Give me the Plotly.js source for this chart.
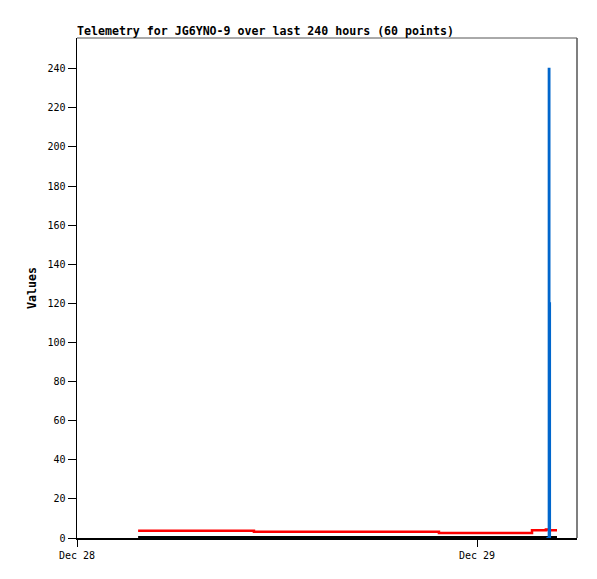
<!DOCTYPE html>
<html>
<head>
<meta charset="utf-8">
<script src="https://cdn.plot.ly/plotly-3.0.1.min.js"></script>
<style>html,body{margin:0;padding:0;background:#fff;}#chart{width:597px;height:579px;}</style>
</head>
<body>
<div id="chart"></div>
<script>
// Data
const titleText = "Telemetry for JG6YNO-9 over last 240 hours (60 points)";
const yTitle = "Values";

const redTimes = ["2023-12-28 03:40", "2023-12-28 10:37", "2023-12-28 21:43", "2023-12-29 03:18", "2023-12-29 04:08", "2023-12-29 04:19", "2023-12-29 04:48"];
const redValues = [3.7, 3.2, 2.6, 3.9, 4.3, 3.9, 3.9];

const blackTimes = ["2023-12-28 03:40", "2023-12-29 04:48"];
const blackValues = [0.5, 0.5];

const blueTimes = ["2023-12-29 04:10", "2023-12-29 04:18", "2023-12-29 04:21", "2023-12-29 04:23"];
const blueValues = [0, 240, 120, 0];

const xRange = ["2023-12-28 00:00", "2023-12-29 06:00"];
const yRange = [0, 255.7];

const traces = [
  {x: blackTimes, y: blackValues, type: "scatter", mode: "lines", line: {color: "#000000", width: 2, shape: "hv"}, hoverinfo: "skip"},
  {x: redTimes, y: redValues, type: "scatter", mode: "lines", line: {color: "#ff0000", width: 2.5, shape: "hv"}, hoverinfo: "skip"},
  {x: blueTimes, y: blueValues, type: "scatter", mode: "lines", line: {color: "#0066cc", width: 2, shape: "hv"}, hoverinfo: "skip"}
];

const layout = {
  width: 597, height: 579,
  margin: {l: 77, r: 20, t: 38, b: 41},
  paper_bgcolor: "#ffffff", plot_bgcolor: "#ffffff",
  showlegend: false,
  title: {
    text: "<b>" + titleText + "</b>",
    font: {family: "DejaVu Sans Mono", size: 11.6, color: "#000"},
    x: 0, xref: "paper", xanchor: "left",
    y: 1 - 31/579, yref: "container", yanchor: "middle"
  },
  xaxis: {
    type: "date", range: xRange,
    showgrid: false, zeroline: false,
    showline: true, linecolor: "#000", linewidth: 1.5,
    ticks: "outside", ticklen: 7, tickcolor: "#000", tickwidth: 1,
    dtick: 86400000, tick0: "2023-12-28", tickformat: "%b %d",
    tickfont: {family: "DejaVu Sans Mono", size: 10, color: "#000"}
  },
  yaxis: {
    range: yRange,
    showgrid: false, zeroline: false,
    showline: true, linecolor: "#000", linewidth: 1.5,
    ticks: "outside", ticklen: 8, tickcolor: "#000", tickwidth: 1,
    dtick: 20, tick0: 0,
    tickfont: {family: "DejaVu Sans Mono", size: 10, color: "#000"},
    title: {text: "<b>" + yTitle + "</b>", font: {family: "DejaVu Sans Mono", size: 11.6, color: "#000"}, standoff: 8}
  },
  shapes: [
    {type: "line", xref: "paper", yref: "paper", x0: 0, x1: 1, y0: 1, y1: 1, line: {color: "#555555", width: 1}},
    {type: "line", xref: "paper", yref: "paper", x0: 1, x1: 1, y0: 0, y1: 1, line: {color: "#555555", width: 1.5}}
  ]
};

Plotly.newPlot("chart", traces, layout, {staticPlot: true, displayModeBar: false});
</script>
</body>
</html>
